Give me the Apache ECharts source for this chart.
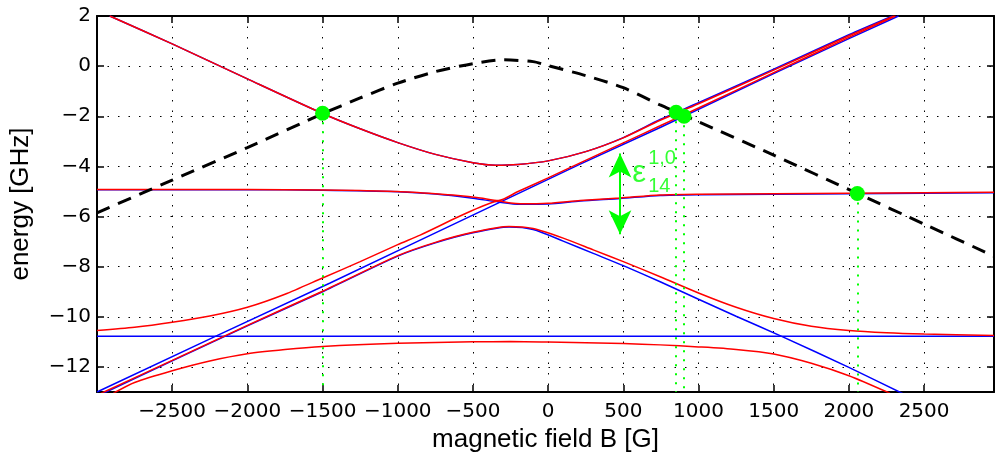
<!DOCTYPE html>
<html><head><meta charset="utf-8">
<script src="https://cdn.jsdelivr.net/npm/echarts@6/dist/echarts.min.js"></script>
<style>html,body{margin:0;padding:0;background:#fff}#c{width:995px;height:460px}</style>
</head><body><div id="c"></div>
<script>
// ---- axes ----
const xMin = -3000, xMax = 2965;
const yMin = -13, yMax = 2;
const xTicks = [-2500, -2000, -1500, -1000, -500, 0, 500, 1000, 1500, 2000, 2500];
const yTicks = [-12, -10, -8, -6, -4, -2, 0, 2];

// ---- blue curves ----
const blueTop = [[-2915,2.0],[-2500,0.89],[-2000,-0.51],[-1500,-1.89],[-1250,-2.5],[-1000,-3.05],[-750,-3.52],[-500,-3.85],[-350,-3.95],[-200,-3.92],[0,-3.78],[250,-3.41],[500,-2.85],[745,-2.13],[1000,-1.46],[1500,-0.12],[2000,1.25],[2290,2.0]];
const blueDiag = [[-3000,-13.0],[-2213,-10.78],[-1450,-8.65],[-851,-6.94],[213,-3.91],[745,-2.45],[1500,-0.3],[2000,1.1],[2330,2.0]];
const blueFlat = [[-3000,-4.93],[-2000,-4.93],[-1500,-4.95],[-1000,-5.01],[-750,-5.1],[-500,-5.27],[-330,-5.42],[-186,-5.51],[0,-5.5],[213,-5.38],[478,-5.28],[745,-5.16],[1000,-5.13],[1500,-5.11],[2000,-5.09],[2500,-5.07],[2965,-5.05]];
const bluePeak = [[-2960,-13.06],[-2500,-11.76],[-2000,-10.36],[-1500,-9.0],[-1000,-7.58],[-750,-7.05],[-500,-6.65],[-260,-6.42],[-100,-6.52],[100,-6.98],[300,-7.47],[500,-7.96],[745,-8.6],[1000,-9.3],[1250,-9.98],[1553,-10.78],[2000,-12.02],[2357,-13.06]];
const blueHoriz = [[-3000,-10.78],[2965,-10.78]];

// ---- red curves ----
const redTop = [[-2915,2.0],[-2500,0.89],[-2000,-0.51],[-1500,-1.89],[-1250,-2.5],[-1000,-3.05],[-750,-3.52],[-500,-3.85],[-350,-3.95],[-200,-3.92],[0,-3.78],[250,-3.41],[500,-2.86],[745,-2.16],[1000,-1.5],[1500,-0.16],[2000,1.21],[2300,2.0]];
const redA = [[-3000,-10.55],[-2750,-10.42],[-2500,-10.22],[-2250,-9.97],[-2000,-9.62],[-1750,-9.1],[-1500,-8.45],[-1250,-7.8],[-1000,-7.12],[-851,-6.74],[-600,-6.02],[-450,-5.62],[-330,-5.38],[-250,-5.46],[-186,-5.49],[0,-5.47],[213,-5.36],[478,-5.26],[745,-5.14],[1000,-5.11],[1500,-5.09],[2000,-5.07],[2500,-5.05],[2965,-5.03]];
const redB = [[-3000,-4.92],[-2500,-4.92],[-2000,-4.92],[-1500,-4.94],[-1250,-4.96],[-1000,-5.0],[-750,-5.09],[-600,-5.16],[-450,-5.26],[-330,-5.36],[-200,-5.0],[0,-4.46],[213,-3.86],[500,-3.06],[745,-2.38],[1000,-1.67],[1500,-0.26],[2000,1.15],[2310,2.0]];
const redPeak = [[-2975,-13.06],[-2500,-11.74],[-2000,-10.34],[-1500,-8.98],[-1000,-7.56],[-750,-7.03],[-500,-6.63],[-260,-6.4],[-100,-6.48],[100,-6.86],[300,-7.33],[500,-7.8],[745,-8.4],[1000,-9.05],[1250,-9.62],[1500,-10.07],[1750,-10.38],[2000,-10.55],[2250,-10.64],[2500,-10.69],[2965,-10.75]];
const redLow = [[-2891,-13.05],[-2750,-12.62],[-2500,-12.15],[-2250,-11.76],[-2000,-11.47],[-1750,-11.3],[-1500,-11.18],[-1000,-11.06],[-500,-11.0],[-250,-10.99],[0,-11.01],[500,-11.07],[745,-11.12],[1000,-11.2],[1250,-11.3],[1500,-11.48],[1750,-11.85],[2000,-12.35],[2273,-13.05]];

// ---- black dashed curve ----
const dashed = [[-3000,-5.85],[-2500,-4.55],[-2000,-3.25],[-1500,-1.9],[-1250,-1.27],[-1000,-0.68],[-750,-0.22],[-500,0.1],[-300,0.25],[-100,0.18],[0,0.02],[250,-0.38],[500,-0.86],[745,-1.55],[851,-1.83],[1000,-2.22],[1500,-3.55],[2056,-5.08],[2500,-6.3],[2965,-7.58]];

// ---- green markers / annotation ----
const greenDots = [[-1500,-1.88],[851,-1.84],[904,-2.0],[2056,-5.08]];
const arrowB = 478, arrowTop = -3.49, arrowBottom = -6.71;
const labelEps = [560, -4.28], labelSup = [665, -3.68], labelSub = [665, -4.82];

const BLUE = '#0000ff', RED = '#ff0000', GREEN = '#00ff00';
const minus = v => String(v).replace('-', '\u2212');

function curve(data, color, extra) {
  return Object.assign({
    type: 'line', data: data, symbol: 'none', smooth: 0.25,
    lineStyle: { color: color, width: 1.5 }, clip: true, silent: true
  }, extra || {});
}

const axisLine = { show: true, onZero: false, lineStyle: { color: '#000', width: 2 } };
const tickStyle = (vals) => ({ show: true, inside: true, length: 7, customValues: vals, lineStyle: { color: '#000', width: 1.5 } });
const gridStyle = { show: true, lineStyle: { color: '#000', width: 1, type: [1.5, 9] } };
const tickFont = { fontFamily: 'DejaVu Sans', fontSize: 20, color: '#000' };
const nameFont = { fontFamily: 'Liberation Sans', fontSize: 26, color: '#000' };

const chart = echarts.init(document.getElementById('c'), null, { renderer: 'canvas' });
chart.setOption({
  animation: false,
  backgroundColor: '#fff',
  grid: { left: 96, right: 1, top: 16, bottom: 68, containLabel: false },
  xAxis: [{
    type: 'value', min: xMin, max: xMax, position: 'bottom',
    axisLine: axisLine, axisTick: tickStyle(xTicks),
    axisLabel: Object.assign({ show: true, customValues: xTicks, formatter: minus, margin: 10 }, tickFont),
    splitLine: gridStyle,
    name: 'magnetic field B [G]', nameLocation: 'middle', nameGap: 33, nameTextStyle: nameFont
  }, {
    type: 'value', min: xMin, max: xMax, position: 'top',
    axisLine: axisLine, axisTick: tickStyle(xTicks),
    axisLabel: { show: false }, splitLine: { show: false }
  }],
  yAxis: [{
    type: 'value', min: yMin, max: yMax, position: 'left',
    axisLine: axisLine, axisTick: tickStyle(yTicks),
    axisLabel: Object.assign({ show: true, customValues: yTicks, formatter: minus, margin: 6 }, tickFont),
    splitLine: gridStyle,
    name: 'energy [GHz]', nameLocation: 'middle', nameGap: 63, nameTextStyle: nameFont
  }, {
    type: 'value', min: yMin, max: yMax, position: 'right',
    axisLine: axisLine, axisTick: tickStyle(yTicks),
    axisLabel: { show: false }, splitLine: { show: false }
  }],
  series: [
    curve(blueHoriz, BLUE, { smooth: false }),
    curve(blueDiag, BLUE, { smooth: false }),
    curve(blueTop, BLUE),
    curve(blueFlat, BLUE),
    curve(bluePeak, BLUE),
    curve(redTop, RED),
    curve(redA, RED),
    curve(redB, RED),
    curve(redPeak, RED),
    curve(redLow, RED),
    curve(dashed, '#000', { lineStyle: { color: '#000', width: 3, type: [14, 9] } }),
    {
      type: 'scatter', data: greenDots, symbolSize: 15, silent: true,
      itemStyle: { color: GREEN, opacity: 1 }, z: 5,
      markLine: {
        silent: true, symbol: 'none', label: { show: false },
        lineStyle: { color: GREEN, width: 2, type: [2, 7] },
        data: greenDots.map(d => [{ coord: [d[0], d[1]] }, { coord: [d[0], yMin] }])
      }
    },
    {
      type: 'scatter', symbolSize: 0, silent: true, z: 6,
      data: [
        { value: labelEps, label: { show: true, position: 'right', distance: 0, formatter: '\u03b5', fontSize: 31, color: GREEN, fontFamily: 'Liberation Sans' } },
        { value: labelSup, label: { show: true, position: 'right', distance: 0, formatter: '1,0', fontSize: 20, color: GREEN, fontFamily: 'Liberation Sans' } },
        { value: labelSub, label: { show: true, position: 'right', distance: 0, formatter: '14', fontSize: 20, color: GREEN, fontFamily: 'Liberation Sans' } }
      ],
      markLine: {
        silent: true, symbol: ['arrow', 'arrow'], symbolSize: [17, 24], label: { show: false },
        lineStyle: { color: GREEN, width: 2, type: 'solid' },
        data: [[{ coord: [arrowB, arrowTop] }, { coord: [arrowB, arrowBottom] }]]
      }
    }
  ]
});
</script>
</body></html>
